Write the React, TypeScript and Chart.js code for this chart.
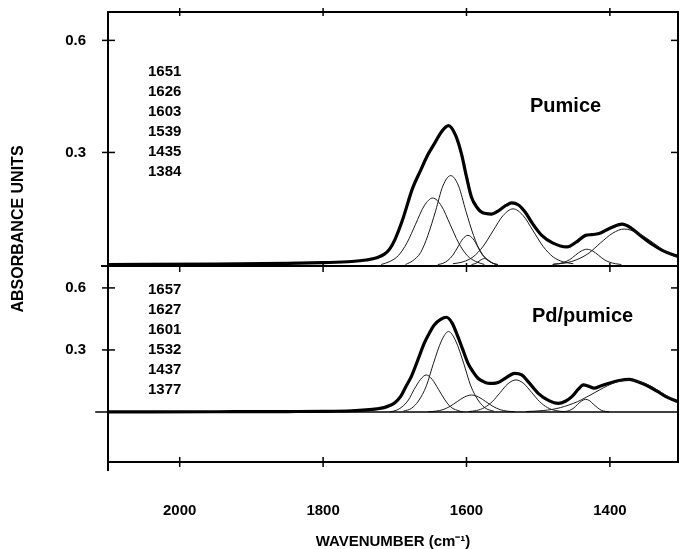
import { useEffect, useRef } from 'react';
import { Chart, registerables } from 'chart.js';
Chart.register(...registerables);

type Pt = [number, number];

const xTickValues = [2000, 1800, 1600, 1400];
const yTickValues = [0.3, 0.6];
const pumiceBands = ['1651', '1626', '1603', '1539', '1435', '1384'];
const pdBands = ['1657', '1627', '1601', '1532', '1437', '1377'];

// Pumice: fitted envelope and component bands (wavenumber, absorbance)
const pumiceFit: Pt[] = [[2100,0],[1950,0.001],[1850,0.003],[1800,0.005],[1760,0.008],[1740,0.012],[1725,0.018],[1715,0.027],[1707,0.042],[1700,0.066],[1690,0.115],[1675,0.205],[1664,0.252],[1655,0.29],[1645,0.323],[1635,0.355],[1625,0.372],[1615,0.345],[1607,0.296],[1600,0.235],[1593,0.18],[1585,0.152],[1579,0.14],[1565,0.135],[1556,0.143],[1545,0.158],[1537,0.165],[1528,0.16],[1518,0.14],[1508,0.11],[1495,0.078],[1480,0.058],[1460,0.047],[1447,0.06],[1434,0.078],[1425,0.08],[1415,0.083],[1400,0.097],[1383,0.108],[1370,0.097],[1355,0.074],[1340,0.053],[1327,0.038],[1313,0.027],[1300,0.02]];
const pumice1651: Pt[] = [[1719,0],[1707,0.008],[1695,0.024],[1683,0.058],[1671,0.108],[1659,0.157],[1647,0.178],[1635,0.157],[1623,0.108],[1611,0.058],[1599,0.024],[1587,0.008],[1575,0]];
const pumice1626: Pt[] = [[1685,0],[1675,0.01],[1664,0.032],[1654,0.077],[1643,0.144],[1633,0.21],[1622,0.238],[1611,0.21],[1601,0.144],[1590,0.077],[1580,0.032],[1569,0.01],[1559,0]];
const pumice1603: Pt[] = [[1640,0],[1633,0.003],[1626,0.011],[1619,0.025],[1612,0.047],[1605,0.069],[1598,0.078],[1591,0.069],[1584,0.047],[1577,0.025],[1570,0.011],[1563,0.003],[1556,0]];
const pumice1575: Pt[] = [[1593,0],[1587,0.003],[1581,0.011],[1575,0.016],[1569,0.011],[1563,0.003],[1557,0]];
const pumice1539: Pt[] = [[1619,0.002],[1605,0.007],[1591,0.02],[1577,0.048],[1563,0.09],[1549,0.131],[1535,0.149],[1521,0.131],[1507,0.09],[1493,0.048],[1479,0.02],[1465,0.007],[1451,0.002]];
const pumice1435: Pt[] = [[1480,0],[1472,0.002],[1464,0.006],[1456,0.013],[1448,0.025],[1440,0.036],[1432,0.041],[1424,0.036],[1416,0.025],[1408,0.013],[1400,0.006],[1392,0.002],[1384,0]];
const pumice1384: Pt[] = [[1479,0.001],[1462,0.004],[1446,0.013],[1429,0.031],[1413,0.058],[1396,0.084],[1380,0.095],[1363,0.086],[1347,0.068],[1330,0.045],[1314,0.025],[1300,0.015]];

// Pd/pumice: fitted envelope and component bands
const pdFit: Pt[] = [[2100,0],[1950,0.001],[1850,0.002],[1800,0.003],[1760,0.006],[1740,0.01],[1725,0.015],[1715,0.021],[1707,0.031],[1700,0.045],[1692,0.074],[1685,0.12],[1677,0.171],[1668,0.25],[1659,0.332],[1652,0.38],[1645,0.421],[1636,0.448],[1628,0.458],[1620,0.43],[1612,0.364],[1605,0.3],[1598,0.236],[1591,0.195],[1584,0.163],[1577,0.148],[1570,0.139],[1563,0.138],[1556,0.142],[1545,0.165],[1533,0.187],[1523,0.179],[1514,0.147],[1500,0.09],[1485,0.055],[1472,0.042],[1462,0.052],[1453,0.074],[1444,0.11],[1437,0.131],[1430,0.125],[1422,0.115],[1412,0.127],[1401,0.139],[1387,0.152],[1373,0.158],[1360,0.145],[1345,0.122],[1333,0.098],[1322,0.074],[1310,0.057],[1300,0.042]];
const pd1657: Pt[] = [[1707,0],[1698,0.008],[1690,0.024],[1681,0.058],[1673,0.109],[1664,0.158],[1656,0.179],[1648,0.158],[1639,0.109],[1630,0.058],[1622,0.024],[1613,0.008],[1605,0]];
const pd1627: Pt[] = [[1688,0.004],[1677,0.017],[1667,0.053],[1656,0.126],[1646,0.236],[1635,0.343],[1625,0.389],[1615,0.343],[1604,0.236],[1594,0.126],[1583,0.053],[1573,0.017],[1562,0.004]];
const pd1601: Pt[] = [[1653,0.001],[1643,0.004],[1633,0.011],[1623,0.027],[1613,0.05],[1603,0.072],[1593,0.082],[1583,0.072],[1573,0.05],[1563,0.027],[1553,0.011],[1543,0.004],[1533,0.001]];
const pd1532: Pt[] = [[1597,0.002],[1586,0.007],[1575,0.021],[1564,0.05],[1553,0.094],[1542,0.137],[1531,0.155],[1520,0.137],[1509,0.094],[1498,0.05],[1487,0.021],[1476,0.007],[1465,0.002]];
const pd1437: Pt[] = [[1467,0.001],[1461,0.003],[1456,0.008],[1450,0.02],[1445,0.037],[1439,0.054],[1434,0.061],[1428,0.054],[1423,0.037],[1417,0.02],[1412,0.008],[1406,0.003],[1401,0.001]];
const pd1377: Pt[] = [[1517,0.002],[1505,0.004],[1493,0.007],[1481,0.012],[1469,0.021],[1457,0.034],[1445,0.05],[1433,0.071],[1421,0.094],[1409,0.117],[1397,0.137],[1385,0.15],[1373,0.155],[1362,0.15],[1350,0.137],[1339,0.117],[1328,0.094],[1317,0.071],[1306,0.05],[1300,0.042]];

const FONT = '"Liberation Sans", Arial, Helvetica, sans-serif';

const toXY = (pts: Pt[]) => pts.map(([x, y]) => ({ x, y }));

function ds(pts: Pt[], axis: string, thick: boolean) {
  return {
    data: toXY(pts),
    yAxisID: axis,
    showLine: true,
    pointRadius: 0,
    borderColor: thick ? '#000' : '#1a1a1a',
    borderWidth: thick ? 3.2 : 1,
    fill: false,
    cubicInterpolationMode: 'monotone' as const,
    borderJoinStyle: 'round' as const,
  };
}

export default function App() {
  const ref = useRef<HTMLCanvasElement>(null);
  useEffect(() => {
    document.body.style.margin = '0';
    const canvas = ref.current;
    if (!canvas) return;

    const framePlugin = {
      id: 'frame',
      afterDraw(chart: any) {
        const { ctx, chartArea } = chart;
        const xs = chart.scales.x, yT = chart.scales.yT, yB = chart.scales.yB;
        const L = chartArea.left, R = chartArea.right;
        const line = (x1: number, y1: number, x2: number, y2: number, w: number) => {
          ctx.lineWidth = w;
          ctx.beginPath();
          ctx.moveTo(x1, y1);
          ctx.lineTo(x2, y2);
          ctx.stroke();
        };
        ctx.save();
        ctx.strokeStyle = '#000';
        ctx.lineCap = 'square';
        const tTop = yT.top, tBot = yT.bottom, bBot = yB.bottom;
        // frame
        line(L, tTop, R, tTop, 2);
        line(R, tTop, R, bBot, 2);
        line(L, tTop, L, bBot + 8, 2);
        line(L - 6, tBot, R, tBot, 2);
        line(L, bBot, R, bBot, 2);
        // zero line of lower panel
        const z = yB.getPixelForValue(0);
        line(L - 12, z, R, z, 1.6);
        // x ticks
        ctx.lineCap = 'butt';
        for (const v of xTickValues) {
          const px = xs.getPixelForValue(v);
          line(px, tTop - 4, px, tTop + 4, 1.5);
          line(px, tBot - 3, px, tBot + 6, 1.5);
          line(px, bBot - 5, px, bBot + 5, 1.5);
        }
        // y ticks
        for (const sc of [yT, yB]) {
          for (const v of yTickValues) {
            const py = sc.getPixelForValue(v);
            line(L - 6, py, L + 7, py, 1.5);
            line(R - 7, py, R, py, 1.5);
          }
        }
        // texts
        ctx.fillStyle = '#000';
        ctx.textAlign = 'left';
        ctx.textBaseline = 'middle';
        ctx.font = `bold 15px ${FONT}`;
        pumiceBands.forEach((t, i) => ctx.fillText(t, L + 40, tTop + 60 + i * 20));
        pdBands.forEach((t, i) => ctx.fillText(t, L + 40, tBot + 24 + i * 20));
        ctx.textBaseline = 'alphabetic';
        ctx.font = `bold 20px ${FONT}`;
        ctx.fillText('Pumice', 530, 112);
        ctx.fillText('Pd/pumice', 532, 322);
        // y title
        ctx.save();
        ctx.translate(19, 229);
        ctx.rotate(-Math.PI / 2);
        ctx.textAlign = 'center';
        ctx.textBaseline = 'middle';
        ctx.font = `bold 16px ${FONT}`;
        ctx.fillText('ABSORBANCE UNITS', 0, 0);
        ctx.restore();
        ctx.restore();
      },
    };

    const tickFont = { family: FONT, size: 15, weight: 'bold' as const };
    const yCommon = (min: number, max: number, weight: number, w: number) => ({
      type: 'linear' as const,
      position: 'left' as const,
      stack: 'panels',
      stackWeight: weight,
      weight: w,
      min,
      max,
      afterBuildTicks: (s: any) => { s.ticks = yTickValues.map((v) => ({ value: v })); },
      afterFit: (s: any) => { s.width = 108; s.paddingTop = 0; s.paddingBottom = 0; },
      grid: { display: false, drawTicks: false },
      border: { display: false },
      ticks: { font: tickFont, color: '#000', padding: 22, callback: (v: any) => Number(v).toFixed(1) },
    });

    const chart = new Chart(canvas, {
      type: 'scatter',
      data: {
        datasets: [
          ds(pumice1651, 'yT', false),
          ds(pumice1626, 'yT', false),
          ds(pumice1603, 'yT', false),
          ds(pumice1575, 'yT', false),
          ds(pumice1539, 'yT', false),
          ds(pumice1435, 'yT', false),
          ds(pumice1384, 'yT', false),
          ds(pumiceFit, 'yT', true),
          ds(pd1657, 'yB', false),
          ds(pd1627, 'yB', false),
          ds(pd1601, 'yB', false),
          ds(pd1532, 'yB', false),
          ds(pd1437, 'yB', false),
          ds(pd1377, 'yB', false),
          ds(pdFit, 'yB', true),
        ] as any,
      },
      options: {
        responsive: false,
        animation: false,
        layout: { padding: { top: 12, right: 2, left: 0, bottom: 0 } },
        plugins: { legend: { display: false }, tooltip: { enabled: false } },
        scales: {
          x: {
            type: 'linear',
            position: 'bottom',
            reverse: true,
            min: 1305,
            max: 2100,
            afterBuildTicks: (s: any) => { s.ticks = xTickValues.map((v) => ({ value: v })); },
            afterFit: (s: any) => { s.height = 87; s.paddingLeft = 0; s.paddingRight = 0; },
            grid: { display: false, drawTicks: false },
            border: { display: false },
            ticks: { font: tickFont, color: '#000', padding: 40, maxRotation: 0, autoSkip: false, callback: (v: any) => String(v) },
            title: { display: true, text: 'WAVENUMBER (cm⁻¹)', color: '#000', font: { family: FONT, size: 15, weight: 'bold', lineHeight: 1 }, padding: 0 },
          },
          yB: yCommon(-0.242, 0.706, 196, 0),
          yT: yCommon(-0.004, 0.676, 254, 1),
        } as any,
      },
      plugins: [framePlugin],
    });
    return () => chart.destroy();
  }, []);
  return <canvas ref={ref} width={680} height={549} style={{ display: 'block' }} />;
}
